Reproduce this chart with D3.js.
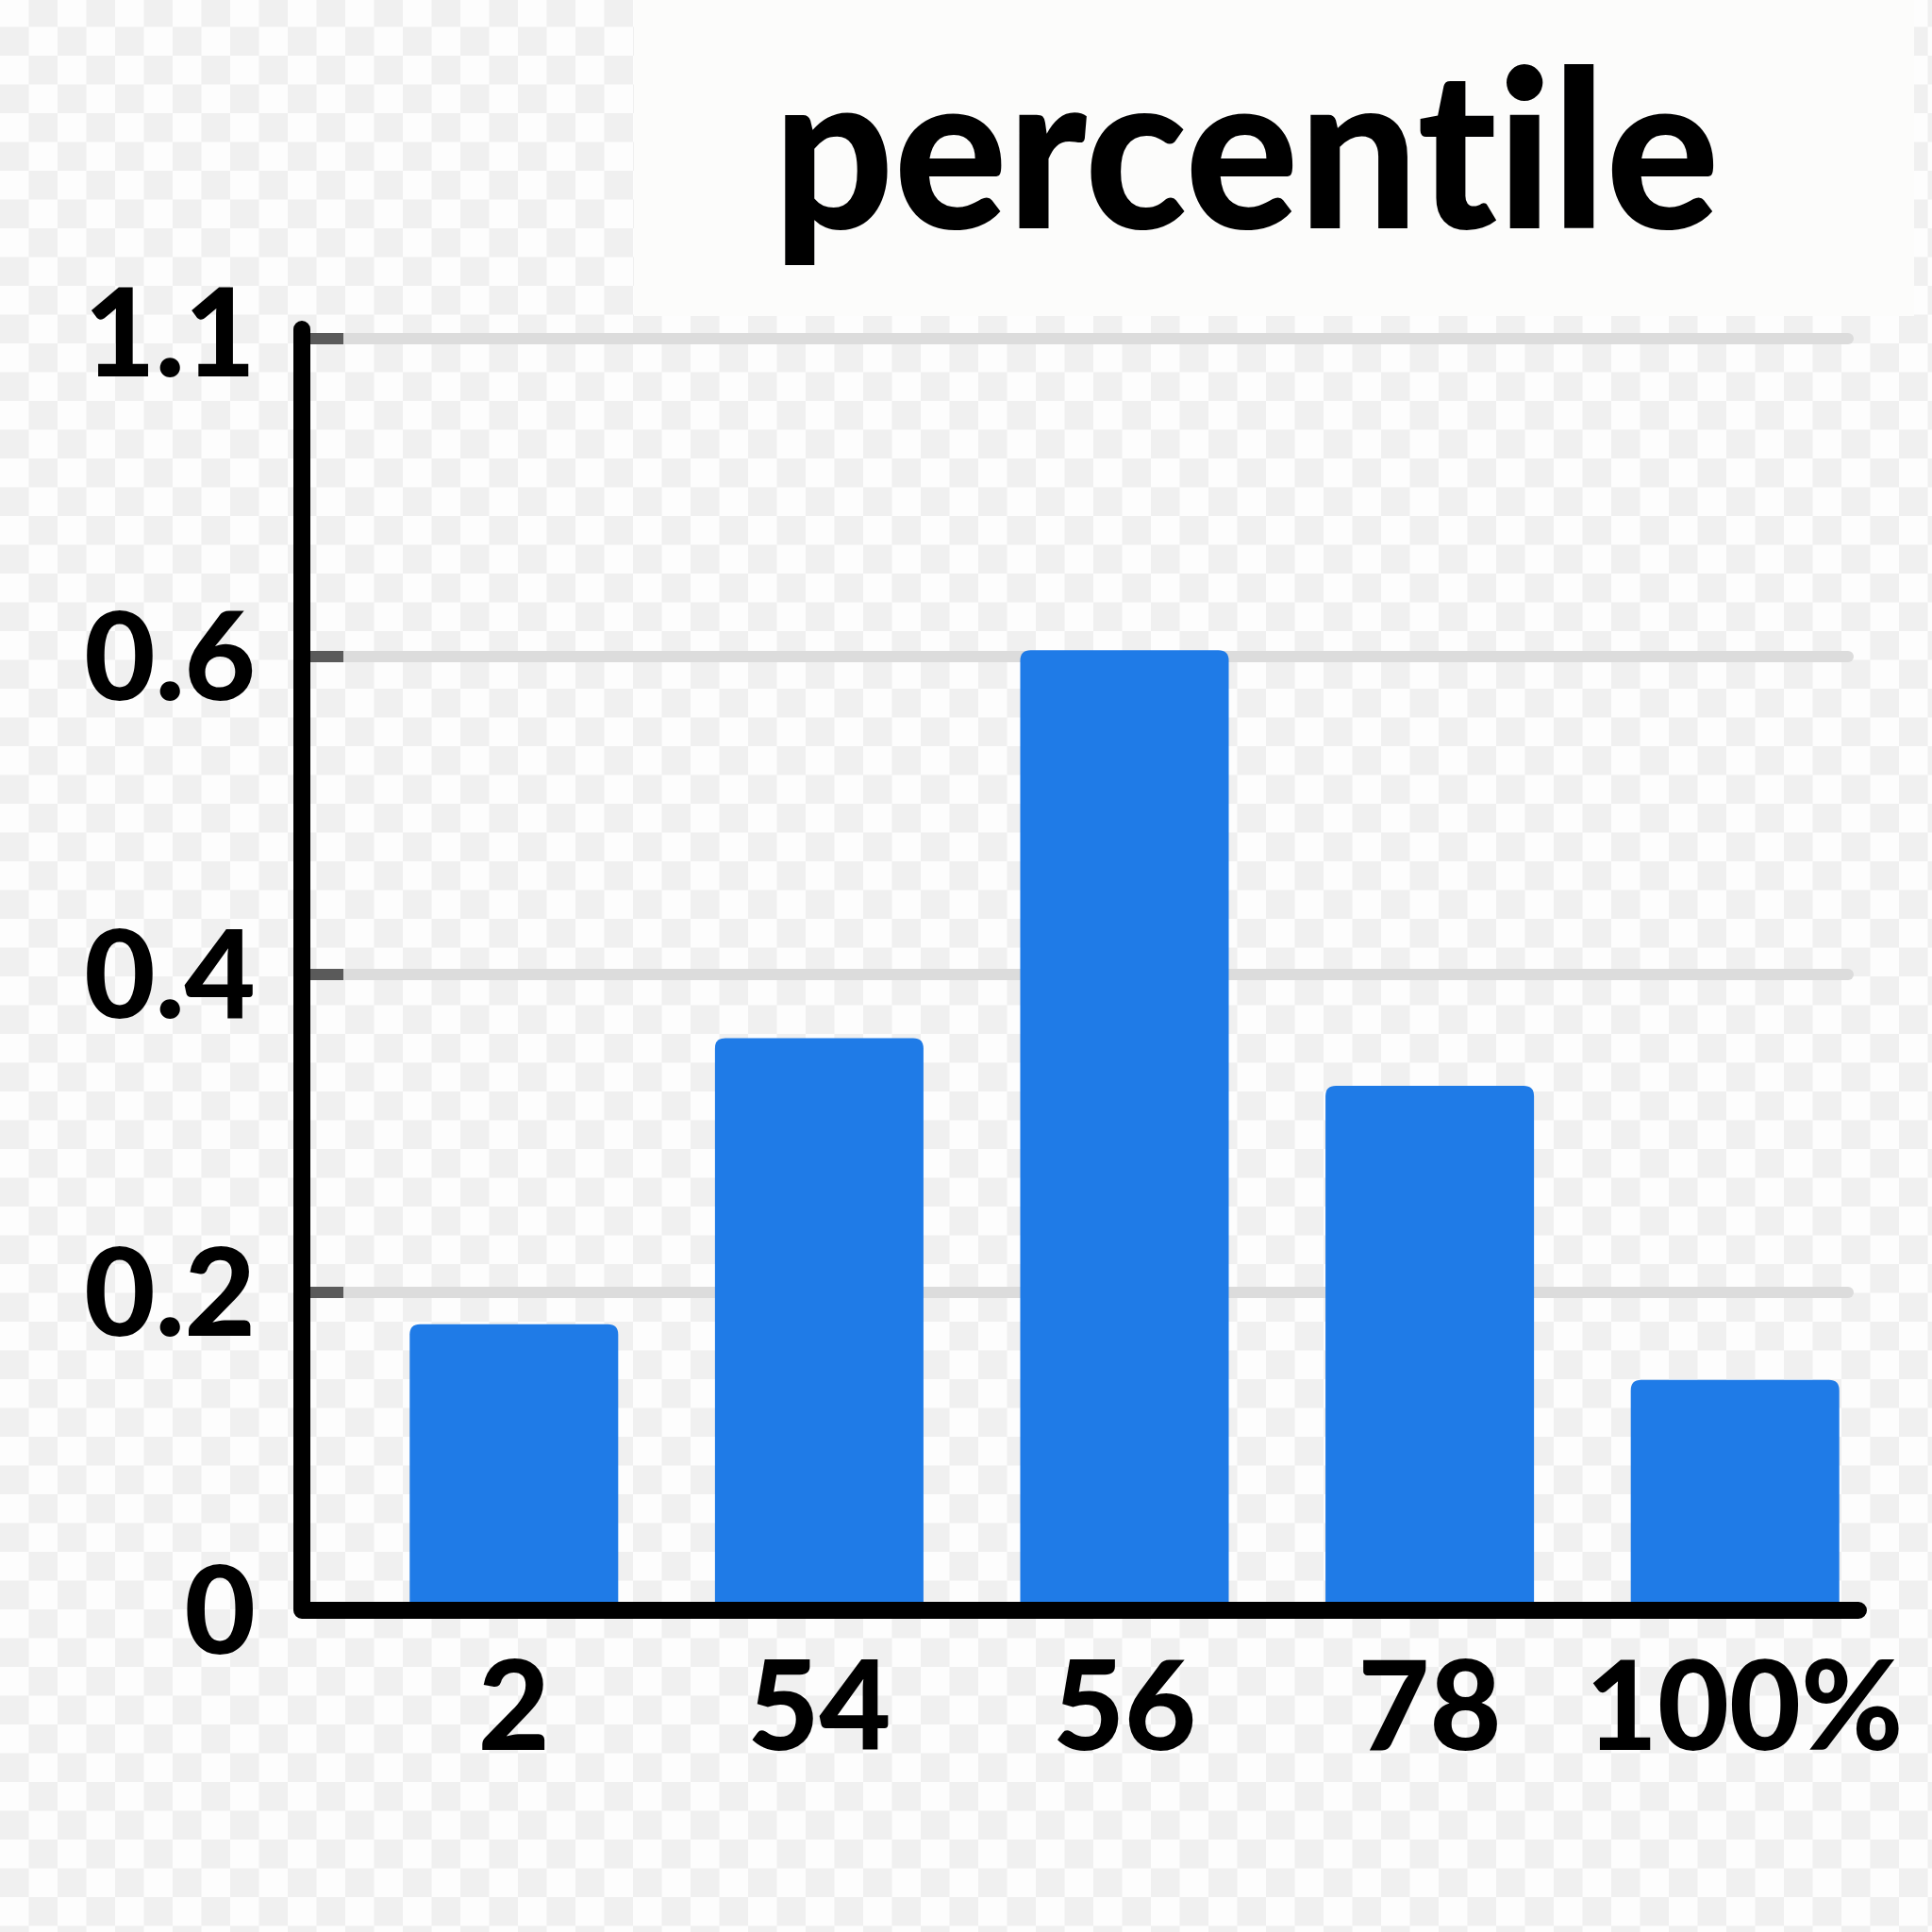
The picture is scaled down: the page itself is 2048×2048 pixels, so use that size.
<!DOCTYPE html>
<html>
<head>
<meta charset="utf-8">
<script src="https://cdn.jsdelivr.net/npm/d3@7"></script>
<style>
  html, body { margin: 0; padding: 0; background: #ffffff; }
  svg { display: block; }
  text { font-variant-ligatures: none; font-feature-settings: "liga" 0, "clig" 0; }
</style>
</head>
<body>
<script>
// ---- data ----
const categories = ["2", "54", "56", "78", "100%"];
const values = [0.18, 0.36, 0.61, 0.33, 0.145];
const yTickValues = [0, 0.2, 0.4, 0.6, 1.1];
const yTickLabels = ["0", "0.2", "0.4", "0.6", "1.1"];
const title = "percentile";

const W = 2048, H = 2048;
const svg = d3.select("body").append("svg").attr("width", W).attr("height", H);

// checkerboard background
const defs = svg.append("defs");
const pat = defs.append("pattern").attr("id", "chk")
  .attr("patternUnits", "userSpaceOnUse").attr("width", 61).attr("height", 61)
  .attr("x", 0).attr("y", -2);
pat.append("rect").attr("width", 61).attr("height", 61).attr("fill", "#fdfdfd");
pat.append("rect").attr("x", 30.5).attr("y", 0).attr("width", 30.5).attr("height", 30.5).attr("fill", "#f0f0f0");
pat.append("rect").attr("x", 0).attr("y", 30.5).attr("width", 30.5).attr("height", 30.5).attr("fill", "#f0f0f0");
svg.append("rect").attr("width", W).attr("height", H).attr("fill", "url(#chk)");

// title box
svg.append("rect").attr("x", 672).attr("y", 0).attr("width", 1357).attr("height", 335)
  .attr("fill", "#fcfcfb");

// scales
const y = d3.scaleLinear().domain(yTickValues).range([1707, 1370, 1033, 696, 359]);
const x = d3.scaleBand().domain(categories).range([383, 2001])
  .paddingInner(0.317).paddingOuter(0.1585);

const axisX = 320;       // y-axis line position
const baseY = y(0);      // x-axis line position
const gridEnd = 1959;

// gridlines (skip 0)
const grid = svg.append("g");
grid.selectAll("line.grid").data(yTickValues.filter(v => v > 0)).join("line")
  .attr("class", "grid")
  .attr("x1", axisX + 9).attr("x2", gridEnd)
  .attr("y1", d => y(d)).attr("y2", d => y(d))
  .attr("stroke", "#dcdcdc").attr("stroke-width", 12).attr("stroke-linecap", "round");
// dark tick stubs
grid.selectAll("line.tick").data(yTickValues.filter(v => v > 0)).join("line")
  .attr("class", "tick")
  .attr("x1", axisX + 9).attr("x2", axisX + 44)
  .attr("y1", d => y(d)).attr("y2", d => y(d))
  .attr("stroke", "#5a5a5a").attr("stroke-width", 12);

// bars with rounded top corners
function topRounded(x0, y0, w, h, r) {
  r = Math.min(r, w / 2, h);
  return `M${x0},${y0 + h}V${y0 + r}Q${x0},${y0} ${x0 + r},${y0}H${x0 + w - r}Q${x0 + w},${y0} ${x0 + w},${y0 + r}V${y0 + h}Z`;
}
svg.append("g").selectAll("path").data(categories.map((c, i) => ({ c, v: values[i] }))).join("path")
  .attr("d", d => topRounded(x(d.c), y(d.v), x.bandwidth(), baseY - y(d.v), 11))
  .attr("fill", "#1f7be7");

// axis lines (L shape)
svg.append("path")
  .attr("d", `M${axisX},349V${baseY}H1970`)
  .attr("fill", "none").attr("stroke", "#000").attr("stroke-width", 18)
  .attr("stroke-linecap", "round").attr("stroke-linejoin", "round");

const FONT = "Lato, 'Open Sans', sans-serif";

// y labels
const yAxis = d3.axisLeft(y).tickValues(yTickValues)
  .tickFormat((d, i) => yTickLabels[i]).tickSize(0).tickPadding(0);
const gy = svg.append("g").attr("transform", "translate(271,0)").call(yAxis);
gy.select(".domain").remove();
gy.selectAll("text")
  .attr("font-family", FONT)
  .attr("font-weight", 900).attr("font-size", 130).attr("fill", "#000")
  .attr("dy", "0.35em").attr("x", 0).attr("text-anchor", "end");
gy.selectAll(".tick").filter(d => d === 1.1).select("text").attr("dy", "0.30em");

// x labels
const xAxis = d3.axisBottom(x).tickSize(0).tickPadding(0);
const gx = svg.append("g").attr("transform", "translate(0,1808)").call(xAxis);
gx.select(".domain").remove();
gx.selectAll("text")
  .attr("font-family", FONT)
  .attr("font-weight", 900).attr("font-size", 131).attr("fill", "#000")
  .attr("y", 0).attr("dy", "0.36em");
gx.selectAll(".tick").filter(d => d === "100%").select("text").attr("x", 10);

// title
svg.append("text")
  .attr("x", 1321).attr("y", 242)
  .attr("text-anchor", "middle")
  .attr("font-family", FONT)
  .attr("font-weight", 900).attr("font-size", 233).attr("fill", "#000")
  .attr("textLength", 1003).attr("lengthAdjust", "spacingAndGlyphs")
  .text(title);
</script>
</body>
</html>
